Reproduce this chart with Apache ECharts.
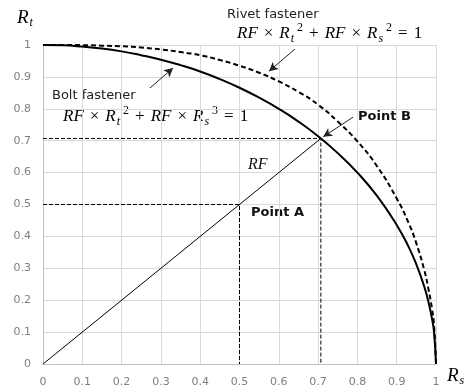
<!DOCTYPE html>
<html><head><meta charset="utf-8">
<script src="https://cdn.jsdelivr.net/npm/echarts@6/dist/echarts.min.js"></script>
<style>html,body{margin:0;padding:0;background:#fff}#c{width:476px;height:389px}</style>
</head><body><div id="c"></div>
<script>
var rsValues   = [0, 0.05, 0.1, 0.15, 0.2, 0.25, 0.3, 0.35, 0.4, 0.45, 0.5, 0.55, 0.6, 0.65, 0.7, 0.75, 0.8, 0.85, 0.9, 0.93, 0.95, 0.97, 0.98, 0.99, 0.995, 1];
var boltRt     = [1, 0.999, 0.995, 0.989, 0.98, 0.968, 0.954, 0.937, 0.917, 0.893, 0.866, 0.835, 0.8, 0.76, 0.714, 0.661, 0.6, 0.527, 0.436, 0.368, 0.312, 0.243, 0.199, 0.141, 0.1, 0];
var rivetRt    = [1, 1, 0.9995, 0.998, 0.996, 0.992, 0.986, 0.978, 0.968, 0.953, 0.935, 0.913, 0.886, 0.853, 0.813, 0.76, 0.698, 0.62, 0.519, 0.443, 0.378, 0.295, 0.24, 0.172, 0.122, 0];
var pointA = [0.5, 0.5];
var pointB = [0.707, 0.707];
var tickLabels = ['0','0.1','0.2','0.3','0.4','0.5','0.6','0.7','0.8','0.9','1'];

function pairs(xs, ys){ return xs.map(function(x,i){ return [x, ys[i]]; }); }

var serif = '"Liberation Serif", "DejaVu Serif", serif';
var sans = '"DejaVu Sans", "Noto Sans", sans-serif';
function fmtLabel(v){ var s = String(Math.round(v*10)/10); return tickLabels.indexOf(s) >= 0 ? s : ''; }

var formulaRich = {
  b: {fontFamily: serif, fontStyle: 'italic', fontSize: 17, color: '#111'},
  n: {fontFamily: serif, fontSize: 17, color: '#111', padding: [0, 6, 0, 6]},
  one: {fontFamily: serif, fontSize: 17, color: '#111'},
  sub: {fontFamily: serif, fontStyle: 'italic', fontSize: 12, color: '#111', padding: [10, 0, 0, 1]},
  sup: {fontFamily: serif, fontSize: 12, color: '#111', padding: [0, 0, 11, 3]},
  ax: {fontFamily: serif, fontStyle: 'italic', fontSize: 19, color: '#111'},
  axs: {fontFamily: serif, fontStyle: 'italic', fontSize: 12, color: '#111', padding: [11, 0, 0, 1]}
};

var chart = echarts.init(document.getElementById('c'));
chart.setOption({
  animation: false,
  grid: {left: 43, right: 40, top: 45, bottom: 25, containLabel: false},
  xAxis: {
    type: 'value', min: 0, max: 1, interval: 0.1,
    axisLine: {show: true, lineStyle: {color: '#bfbfbf'}},
    axisTick: {show: false},
    splitLine: {show: true, lineStyle: {color: '#d9d9d9'}},
    axisLabel: {color: '#7f7f7f', fontFamily: sans, fontSize: 11, margin: 13, formatter: fmtLabel}
  },
  yAxis: {
    type: 'value', min: 0, max: 1, interval: 0.1,
    axisLine: {show: true, lineStyle: {color: '#bfbfbf'}},
    axisTick: {show: false},
    splitLine: {show: true, lineStyle: {color: '#d9d9d9'}},
    axisLabel: {color: '#7f7f7f', fontFamily: sans, fontSize: 11, margin: 12, formatter: fmtLabel}
  },
  series: [
    {type: 'line', data: pairs(rsValues, boltRt), showSymbol: false, smooth: true,
     lineStyle: {color: '#000', width: 2}, z: 5},
    {type: 'line', data: pairs(rsValues, rivetRt), showSymbol: false, smooth: true,
     lineStyle: {color: '#000', width: 2, type: [5, 3]}, z: 5},
    {type: 'line', data: [[0, 0], pointB], showSymbol: false,
     lineStyle: {color: '#000', width: 1}, z: 4},
    {type: 'line', data: [[0, pointA[1]], pointA, [pointA[0], 0]], showSymbol: false,
     lineStyle: {color: '#000', width: 1, type: [4, 2]}, z: 4},
    {type: 'line', data: [[0, pointB[1]], pointB, [pointB[0], 0]], showSymbol: false,
     lineStyle: {color: '#000', width: 1, type: [4, 2]}, z: 4,
     markLine: {
       silent: true, symbol: ['none', 'arrow'], symbolSize: [7, 9], label: {show: false},
       lineStyle: {color: '#222', width: 1, type: 'solid'},
       data: [
         [{coord: [0.641, 0.987]}, {coord: [0.575, 0.918]}],
         [{coord: [0.272, 0.865]}, {coord: [0.331, 0.928]}],
         [{coord: [0.789, 0.774]}, {coord: [0.713, 0.712]}]
       ]
     }}
  ],
  graphic: [
    {type: 'text', left: 17, top: 8, style: {rich: formulaRich, text: '{ax|R}{axs|t}'}},
    {type: 'text', left: 447, top: 366, style: {rich: formulaRich, text: '{ax|R}{axs|s}'}},
    {type: 'text', left: 227, top: 8, style: {text: 'Rivet fastener', font: '13px ' + sans, fill: '#222'}},
    {type: 'text', left: 237, top: 22, style: {rich: formulaRich,
      text: '{b|RF}{n|×}{b|R}{sub|t}{sup|2}{n|+}{b|RF}{n|×}{b|R}{sub|s}{sup|2}{n|=}{one|1}'}},
    {type: 'text', left: 52, top: 89, style: {text: 'Bolt fastener', font: '13px ' + sans, fill: '#222'}},
    {type: 'text', left: 63, top: 105, style: {rich: formulaRich,
      text: '{b|RF}{n|×}{b|R}{sub|t}{sup|2}{n|+}{b|RF}{n|×}{b|R}{sub|s}{sup|3}{n|=}{one|1}'}},
    {type: 'text', left: 358, top: 110, style: {text: 'Point B', font: 'bold 13px ' + sans, fill: '#111'}},
    {type: 'text', left: 251, top: 206, style: {text: 'Point A', font: 'bold 13px ' + sans, fill: '#111'}},
    {type: 'text', left: 248, top: 157, style: {text: 'RF', font: 'italic 16px ' + serif, fill: '#111'}}
  ]
});
</script></body></html>
